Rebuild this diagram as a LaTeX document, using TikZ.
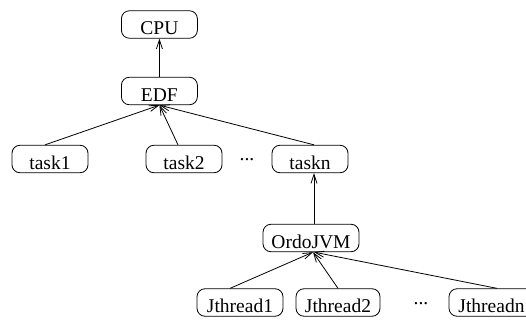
\documentclass[tikz,border=0pt]{standalone}
\usepackage{fontspec}
\setmainfont{Liberation Serif}
\usetikzlibrary{arrows.meta}
\begin{document}
\begin{tikzpicture}[x=1pt,y=-1pt,
  box/.style={draw, rounded corners=8pt, inner sep=0pt, text height=24pt, text depth=3.5pt,
    minimum width=76pt, line width=0.8pt, font=\fontsize{19.5}{22}\selectfont},
  dotsnode/.style={inner sep=0pt, font=\fontsize{19.5}{22}\selectfont},
  link/.style={line width=0.8pt, -{Straight Barb[length=9pt,width=6pt,line width=0.8pt]}}]
\useasboundingbox (0,0) rectangle (526,320);
\node[box] (cpu) at (159.4,24.5) {CPU};
\node[box] (edf) at (159.4,91) {EDF};
\node[box] (t1) at (50,159) {task1};
\node[box] (t2) at (184,159) {task2};
\node[box] (tn) at (310,159) {taskn};
\node[dotsnode] (d1) at (247,160) {...};
\node[box, minimum width=96pt] (jvm) at (311,238) {OrdoJVM};
\node[box, minimum width=86pt] (j1) at (240,302.5) {Jthread1};
\node[box, minimum width=84pt] (j2) at (338,302.5) {Jthread2};
\node[dotsnode] (d2) at (421,304) {...};
\node[box, minimum width=85pt] (jn) at (491.5,302.5) {Jthreadn};
\draw[link] (edf.north) -- (cpu.south);
\draw[link] ([xshift=-5pt]t1.north) -- (edf.south);
\draw[link] ([xshift=-6pt]t2.north) -- (edf.south);
\draw[link] ([xshift=4pt]tn.north) -- (edf.south);
\draw[link] ([xshift=3pt]jvm.north) -- ([xshift=3pt]jvm.north |- tn.south);
\draw[link] ([xshift=-10pt]j1.north) -- ([xshift=2pt]jvm.south);
\draw[link] (j2.north) -- ([xshift=2pt]jvm.south);
\draw[link] ([xshift=5.5pt]jn.north) -- ([xshift=3pt]jvm.south);
\end{tikzpicture}
\end{document}
